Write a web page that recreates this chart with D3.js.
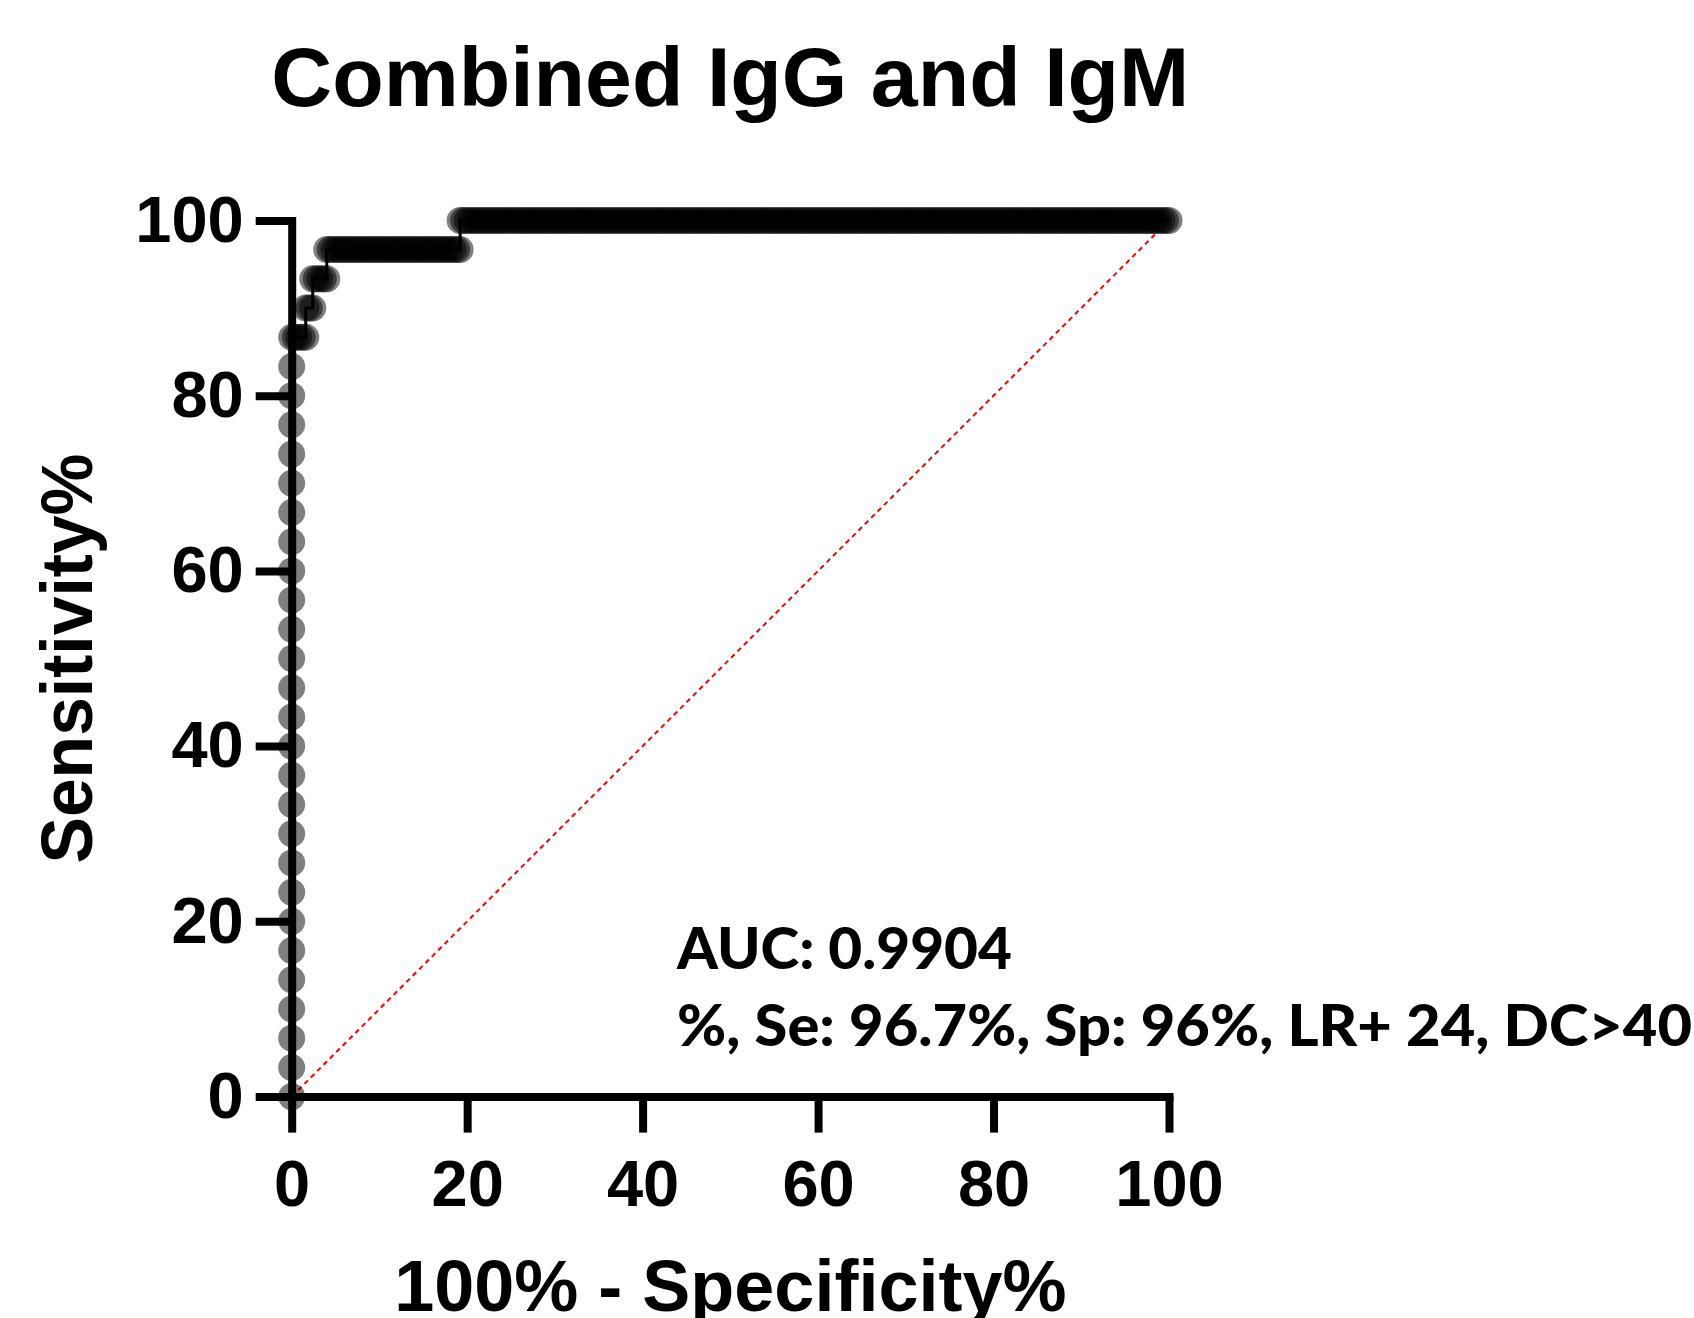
<!DOCTYPE html>
<html>
<head>
<meta charset="utf-8">
<script src="https://cdnjs.cloudflare.com/ajax/libs/d3/7.8.5/d3.min.js"></script>
<style>
    body { margin: 0; background: #ffffff; }
    svg { display: block; }
</style>
</head>
<body>
<div id="container"></div>
<script>
"use strict";

//tick values for both axes
var xTicks = [0, 20, 40, 60, 80, 100];
var yTicks = [0, 20, 40, 60, 80, 100];

//sensitivity of the points that sit on the y axis (100% - specificity = 0)
var sensOnAxis = [0, 3.33, 6.67, 10, 13.33, 16.67, 20, 23.33, 26.67, 30, 33.33, 36.67, 40, 43.33,
    46.67, 50, 53.33, 56.67, 60, 63.33, 66.67, 70, 73.33, 76.67, 80, 83.33, 86.67];

//100% - specificity of the points at each higher sensitivity level
var fprAt8667 = [0.4, 0.8, 1.2, 1.6];
var fprAt90 = [1.6, 2.0, 2.4];
var fprAt9333 = [2.4, 2.8, 3.2, 3.6, 4.0];
var fprAt9667 = [4, 4.4, 4.8, 5.2, 5.6, 6, 6.4, 6.8, 7.2, 7.6, 8, 8.4, 8.8, 9.2, 9.6, 10, 10.4,
    10.8, 11.2, 11.6, 12, 12.4, 12.8, 13.2, 13.6, 14, 14.4, 14.8, 15.2, 15.6, 16, 16.4, 16.8, 17.2,
    17.6, 18, 18.4, 18.8, 19.2];
var fprAt100 = [
    19.2, 19.6, 20, 20.4, 20.8, 21.2, 21.6, 22, 22.4, 22.8, 23.2, 23.6, 24, 24.4, 24.8, 25.2, 25.6, 26, 26.4, 26.8,
    27.2, 27.6, 28, 28.4, 28.8, 29.2, 29.6, 30, 30.4, 30.8, 31.2, 31.6, 32, 32.4, 32.8, 33.2, 33.6, 34, 34.4, 34.8,
    35.2, 35.6, 36, 36.4, 36.8, 37.2, 37.6, 38, 38.4, 38.8, 39.2, 39.6, 40, 40.4, 40.8, 41.2, 41.6, 42, 42.4, 42.8,
    43.2, 43.6, 44, 44.4, 44.8, 45.2, 45.6, 46, 46.4, 46.8, 47.2, 47.6, 48, 48.4, 48.8, 49.2, 49.6, 50, 50.4, 50.8,
    51.2, 51.6, 52, 52.4, 52.8, 53.2, 53.6, 54, 54.4, 54.8, 55.2, 55.6, 56, 56.4, 56.8, 57.2, 57.6, 58, 58.4, 58.8,
    59.2, 59.6, 60, 60.4, 60.8, 61.2, 61.6, 62, 62.4, 62.8, 63.2, 63.6, 64, 64.4, 64.8, 65.2, 65.6, 66, 66.4, 66.8,
    67.2, 67.6, 68, 68.4, 68.8, 69.2, 69.6, 70, 70.4, 70.8, 71.2, 71.6, 72, 72.4, 72.8, 73.2, 73.6, 74, 74.4, 74.8,
    75.2, 75.6, 76, 76.4, 76.8, 77.2, 77.6, 78, 78.4, 78.8, 79.2, 79.6, 80, 80.4, 80.8, 81.2, 81.6, 82, 82.4, 82.8,
    83.2, 83.6, 84, 84.4, 84.8, 85.2, 85.6, 86, 86.4, 86.8, 87.2, 87.6, 88, 88.4, 88.8, 89.2, 89.6, 90, 90.4, 90.8,
    91.2, 91.6, 92, 92.4, 92.8, 93.2, 93.6, 94, 94.4, 94.8, 95.2, 95.6, 96, 96.4, 96.8, 97.2, 97.6, 98, 98.4, 98.8,
    99.2, 99.6, 100];

//reference diagonal
var diagonal = [[0, 0], [100, 100]];

var titleText = "Combined IgG and IgM";
var xLabelText = "100% - Specificity%";
var yLabelText = "Sensitivity%";
var aucText = "AUC: 0.9904";
var statsText = "%, Se: 96.7%, Sp: 96%, LR+ 24, DC>40";

var width = 1694;
var height = 1318;
var plotLeft = 291.7;
var plotRight = 1169;
var plotTop = 220.4;
var plotBottom = 1096.6;

var axisFont = "'Liberation Sans', Arial, Helvetica, sans-serif";
var noteFont = "Lato, 'Open Sans', sans-serif";

var svg = d3.select("#container").append("svg")
    .attr("width", width)
    .attr("height", height)
    .attr("viewBox", "0 0 " + width + " " + height);

svg.append("rect").attr("width", width).attr("height", height).style("fill", "#ffffff");

var x = d3.scaleLinear().domain([0, 100]).range([plotLeft, plotRight]);
var y = d3.scaleLinear().domain([0, 100]).range([plotBottom, plotTop]);

//putting every roc point together, in curve order
function buildPoints() {
    var pts = [];
    sensOnAxis.forEach(function (s) { pts.push([0, s]); });
    fprAt8667.forEach(function (f) { pts.push([f, 86.67]); });
    fprAt90.forEach(function (f) { pts.push([f, 90]); });
    fprAt9333.forEach(function (f) { pts.push([f, 93.33]); });
    fprAt9667.forEach(function (f) { pts.push([f, 96.67]); });
    fprAt100.forEach(function (f) { pts.push([f, 100]); });
    return pts;
}

var points = buildPoints();

var lineGen = d3.line()
    .x(function (d) { return x(d[0]); })
    .y(function (d) { return y(d[1]); });

//red dashed chance line
svg.append("path")
    .datum(diagonal)
    .attr("d", lineGen)
    .style("fill", "none")
    .style("stroke", "#ff0000")
    .style("stroke-width", 2)
    .style("stroke-dasharray", "5,4");

//grey see-through markers
svg.selectAll("circle.roc").data(points).enter().append("circle")
    .attr("class", "roc")
    .attr("cx", function (d) { return x(d[0]); })
    .attr("cy", function (d) { return y(d[1]); })
    .attr("r", 13.5)
    .style("fill", "#000000")
    .style("fill-opacity", 0.5);

//roc step line
svg.append("path")
    .datum(points)
    .attr("d", lineGen)
    .style("fill", "none")
    .style("stroke", "#000000")
    .style("stroke-width", 3);

//axes
var xAxis = svg.append("g")
    .attr("transform", "translate(0," + plotBottom + ")")
    .call(d3.axisBottom(x).tickValues(xTicks).tickSize(36).tickSizeOuter(0).tickPadding(27));

var yAxis = svg.append("g")
    .attr("transform", "translate(" + plotLeft + ",0)")
    .call(d3.axisLeft(y).tickValues(yTicks).tickSize(36).tickSizeOuter(0).tickPadding(12));

[xAxis, yAxis].forEach(function (g) {
    g.select(".domain").style("stroke", "#000").style("stroke-width", 8).style("stroke-linecap", "square");
    g.selectAll(".tick line").style("stroke", "#000").style("stroke-width", 8);
    g.selectAll(".tick text")
        .style("fill", "#000")
        .style("font-family", axisFont)
        .style("font-weight", "bold")
        .style("font-size", "65px");
});

//titles
svg.append("text")
    .attr("x", (plotLeft + plotRight) / 2)
    .attr("y", 106)
    .attr("text-anchor", "middle")
    .attr("textLength", 918)
    .attr("lengthAdjust", "spacingAndGlyphs")
    .style("font-family", axisFont)
    .style("font-weight", "bold")
    .style("font-size", "83px")
    .text(titleText);

svg.append("text")
    .attr("x", (plotLeft + plotRight) / 2)
    .attr("y", 1311)
    .attr("text-anchor", "middle")
    .style("font-family", axisFont)
    .style("font-weight", "bold")
    .style("font-size", "72px")
    .text(xLabelText);

svg.append("text")
    .attr("transform", "translate(92," + ((plotTop + plotBottom) / 2) + ") rotate(-90)")
    .attr("text-anchor", "middle")
    .attr("textLength", 410)
    .attr("lengthAdjust", "spacingAndGlyphs")
    .style("font-family", axisFont)
    .style("font-weight", "bold")
    .style("font-size", "73px")
    .text(yLabelText);

//auc notes
svg.append("text")
    .attr("x", 677)
    .attr("y", 969)
    .attr("textLength", 335)
    .attr("lengthAdjust", "spacingAndGlyphs")
    .style("font-family", noteFont)
    .style("font-weight", 900)
    .style("font-size", "57px")
    .text(aucText);

svg.append("text")
    .attr("x", 677)
    .attr("y", 1046)
    .attr("textLength", 1015)
    .attr("lengthAdjust", "spacingAndGlyphs")
    .style("font-family", noteFont)
    .style("font-weight", 900)
    .style("font-size", "57px")
    .text(statsText);
</script>
</body>
</html>
